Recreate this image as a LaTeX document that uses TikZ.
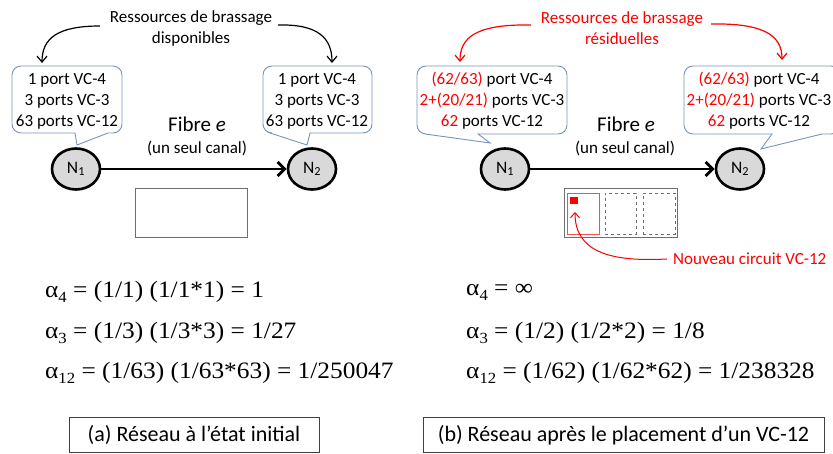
\documentclass[tikz,border=0pt]{standalone}
\usepackage{fontspec}
\setmainfont{Carlito}
\newfontfamily\eqfont[FakeStretch=1.08]{Liberation Serif}
\usetikzlibrary{arrows.meta,shapes.geometric}
\definecolor{callblue}{RGB}{120,148,186}
\definecolor{nodegray}{RGB}{217,217,217}
\definecolor{boxgray}{RGB}{110,110,110}
\definecolor{myred}{RGB}{255,0,0}
\definecolor{lightred}{RGB}{240,80,80}
\newcommand{\eqsub}[1]{\raisebox{-0.22em}{\fontsize{15.5}{15.5}\selectfont #1}}
\newcommand{\rd}[1]{\textcolor{myred}{#1}}
\begin{document}
\begin{tikzpicture}[x=1pt,y=-1pt,
  txt/.style={font=\fontsize{17}{21}\selectfont, align=center, inner sep=0pt},
  fib/.style={font=\fontsize{21}{24}\selectfont, inner sep=0pt},
  eq/.style={font=\eqfont\fontsize{23.5}{26}\selectfont, anchor=west, inner sep=0pt},
  capbox/.style={draw=black!75, line width=0.9pt, font=\fontsize{22}{26}\selectfont, minimum height=35pt, inner sep=0pt},
  balloon/.style={draw=callblue, fill=white, line width=0.9pt},
  nd/.style={ellipse, draw=black, fill=nodegray, line width=2.6pt, minimum width=48pt, minimum height=41pt, inner sep=0pt, font=\fontsize{17.5}{20}\selectfont},
  fibarrow/.style={line width=2.8pt, -{Straight Barb[length=7pt,width=14pt,line width=2.8pt]}},
  curvarrow/.style={line width=1.2pt, -{Straight Barb[length=6pt,width=10pt,line width=1.2pt]}},
  chan/.style={draw=boxgray, line width=1pt, inner sep=0pt}
]
\useasboundingbox (0,0) rectangle (833,454);

% ---------- left panel ----------
\node[txt] (t1) at (191,28) {Ressources de brassage\\disponibles};
\coordinate (t1a) at (100,26);
\coordinate (t1b) at (278,25);

\draw[balloon] (77,145) -- (75,133) [rounded corners=9pt] -- (12,133) -- (12,66) -- (122,66) -- (122,133) [sharp corners] -- (108,133) -- cycle;
\draw[balloon] (307,145) -- (270,133) [rounded corners=9pt] -- (263,133) -- (263,66) -- (372,66) -- (372,133) [sharp corners] -- (310,133) -- cycle;

\node[txt] (c1) at (67,101) {1 port VC-4\\3 ports VC-3\\63 ports VC-12};
\node[txt] (c2) at (317,101) {1 port VC-4\\3 ports VC-3\\63 ports VC-12};

\coordinate (c1t) at (42,63);
\coordinate (c2t) at (332,63);
\draw[curvarrow] (t1a) .. controls (58,26) and (42,38) .. (c1t);
\draw[curvarrow] (t1b) .. controls (318,24) and (332,38) .. (c2t);

\node[fib] (f1) at (197,124) {Fibre \textit{e}};
\node[txt] (u1) at (197,148) {(un seul canal)};

\node[nd] (n1) at (76,169) {N\textsubscript{1}};
\node[nd] (n2) at (312,169) {N\textsubscript{2}};
\draw[fibarrow] (n1) -- (n2);

\node[chan, minimum width=112pt, minimum height=49pt] (ch1) at (191,213.5) {};

\node[eq] (e14) at (45,292) {α\eqsub{4} = (1/1) (1/1*1) = 1};
\node[eq] (e13) at (45,333) {α\eqsub{3} = (1/3) (1/3*3) = 1/27};
\node[eq] (e112) at (45,373) {α\eqsub{12} = (1/63) (1/63*63) = 1/250047};

\node[capbox, minimum width=250pt] (capa) at (194,435) {(a) Réseau à l’état initial};

% ---------- right panel ----------
\node[txt, text=myred] (t2) at (622,28) {Ressources de brassage\\résiduelles};
\coordinate (t2a) at (531,25);
\coordinate (t2b) at (711,24);

\draw[balloon] (490,143) -- (425,134) [rounded corners=9pt] -- (417,134) -- (417,66) -- (567,66) -- (567,134) [sharp corners] -- (478,134) -- cycle;
\draw[balloon] (761,149) -- (772,134) [rounded corners=9pt] -- (684,134) -- (684,66) -- (840,66) -- (840,134) [sharp corners] -- (822,134) -- cycle;

\node[txt] (c3) at (492,101) {\rd{(62/63)} port VC-4\\\rd{2+(20/21)} ports VC-3\\\rd{62} ports VC-12};
\node[txt] (c4) at (759,101) {\rd{(62/63)} port VC-4\\\rd{2+(20/21)} ports VC-3\\\rd{62} ports VC-12};

\coordinate (c3t) at (460,62);
\coordinate (c4t) at (782,60);
\draw[curvarrow, myred] (t2a) .. controls (475,24) and (460,38) .. (c3t);
\draw[curvarrow, myred] (t2b) .. controls (765,23) and (782,36) .. (c4t);

\node[fib] (f2) at (626,124) {Fibre \textit{e}};
\node[txt] (u2) at (625,148) {(un seul canal)};

\node[nd] (n3) at (505,169) {N\textsubscript{1}};
\node[nd] (n4) at (740,169) {N\textsubscript{2}};
\draw[fibarrow] (n3) -- (n4);

\node[chan, minimum width=113pt, minimum height=49pt] (ch2) at (620.5,213.5) {};
\node[draw=lightred, line width=0.9pt, minimum width=32pt, minimum height=41pt, inner sep=0pt] (s1) at (583,213.5) {};
\node[draw=boxgray, dashed, line width=0.8pt, minimum width=31pt, minimum height=41pt, inner sep=0pt] (s2) at (620.5,213.5) {};
\node[draw=boxgray, dashed, line width=0.8pt, minimum width=32pt, minimum height=41pt, inner sep=0pt] (s3) at (659,213.5) {};
\node[fill=myred, minimum width=8pt, minimum height=7.5pt, inner sep=0pt] (sq) at (574,200.5) {};

\node[txt, text=myred, anchor=west] (nc) at (673,259) {Nouveau circuit VC-12};
\coordinate (nct) at (575,212);
\draw[line width=1pt, myred, -{Straight Barb[length=5pt,width=9pt,line width=1pt]}] ([xshift=-6pt]nc.west) .. controls (610,262) and (575,252) .. (nct);

\node[eq] (e24) at (466,292) {α\eqsub{4} = ∞};
\node[eq] (e23) at (466,333) {α\eqsub{3} = (1/2) (1/2*2) = 1/8};
\node[eq] (e212) at (466,373) {α\eqsub{12} = (1/62) (1/62*62) = 1/238328};

\node[capbox, minimum width=401pt] (capb) at (623.5,435) {(b) Réseau après le placement d’un VC-12};
\end{tikzpicture}
\end{document}
